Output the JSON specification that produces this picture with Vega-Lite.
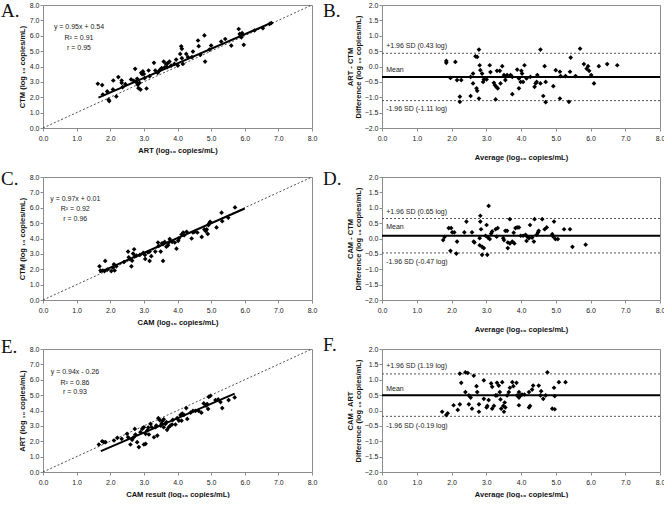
{
  "$schema": "https://vega.github.io/schema/vega-lite/v6.json",
  "padding": 0,
  "background": "white",
  "bounds": "flush",
  "columns": 2,
  "spacing": {"row": 49, "column": 70},
  "datasets": {
    "diag": [{"x": 0, "y": 0}, {"x": 8, "y": 8}],
    "A_pts": [
      {"x":1.63,"y":2.88},{"x":1.76,"y":2.79},{"x":1.78,"y":2.18},{"x":1.91,"y":2.38},{"x":1.95,"y":1.84},{"x":1.97,"y":1.75},{"x":2.08,"y":2.51},{"x":2.09,"y":3.09},{"x":2.18,"y":2.05},{"x":2.24,"y":3.31},{"x":2.34,"y":3.09},{"x":2.34,"y":2.94},{"x":2.37,"y":2.66},{"x":2.45,"y":2.85},{"x":2.62,"y":3.16},{"x":2.70,"y":3.07},{"x":2.74,"y":3.85},{"x":2.77,"y":2.98},{"x":2.80,"y":3.20},{"x":2.82,"y":2.81},{"x":2.84,"y":2.59},{"x":2.87,"y":2.94},{"x":2.90,"y":2.50},{"x":2.92,"y":3.59},{"x":2.95,"y":3.50},{"x":2.97,"y":3.68},{"x":3.00,"y":3.52},{"x":3.02,"y":3.24},{"x":3.08,"y":2.57},{"x":3.14,"y":3.74},{"x":3.17,"y":3.37},{"x":3.30,"y":4.24},{"x":3.34,"y":3.74},{"x":3.41,"y":3.59},{"x":3.45,"y":3.70},{"x":3.49,"y":3.81},{"x":3.53,"y":3.89},{"x":3.59,"y":4.32},{"x":3.62,"y":3.95},{"x":3.66,"y":4.17},{"x":3.69,"y":3.96},{"x":3.70,"y":4.20},{"x":3.76,"y":4.32},{"x":3.81,"y":4.06},{"x":3.91,"y":4.17},{"x":3.96,"y":4.45},{"x":4.01,"y":4.06},{"x":4.08,"y":4.82},{"x":4.11,"y":5.31},{"x":4.13,"y":5.15},{"x":4.13,"y":4.54},{"x":4.16,"y":4.17},{"x":4.26,"y":4.82},{"x":4.31,"y":4.61},{"x":4.43,"y":4.61},{"x":4.46,"y":4.97},{"x":4.61,"y":5.69},{"x":4.63,"y":5.32},{"x":4.68,"y":4.76},{"x":4.80,"y":6.02},{"x":4.82,"y":4.32},{"x":4.95,"y":5.10},{"x":5.00,"y":5.36},{"x":5.30,"y":5.62},{"x":5.42,"y":5.79},{"x":5.60,"y":5.36},{"x":5.82,"y":6.44},{"x":5.85,"y":6.12},{"x":5.88,"y":6.01},{"x":5.90,"y":5.90},{"x":5.92,"y":6.18},{"x":5.97,"y":5.41},{"x":6.29,"y":6.34},{"x":6.54,"y":6.49},{"x":6.74,"y":6.77},{"x":6.79,"y":6.83}
    ],
    "A_fit": [{"x": 1.65, "y": 1.98}, {"x": 6.8, "y": 6.85}],
    "A_txt": [{"x":1.07,"y":6.55,"t":"y = 0.95x + 0.54"},{"x":1.07,"y":5.84,"t":"R² = 0.91"},{"x":1.07,"y":5.19,"t":"r = 0.95"}],
    "B_pts": [
      {"x":1.85,"y":0.18},{"x":1.85,"y":0.12},{"x":1.97,"y":-0.37},{"x":2.11,"y":0.15},{"x":2.16,"y":-0.44},{"x":2.28,"y":-0.44},{"x":2.24,"y":-0.98},{"x":2.24,"y":-1.15},{"x":2.55,"y":-0.96},{"x":2.55,"y":-0.34},{"x":2.62,"y":-0.23},{"x":2.62,"y":-0.55},{"x":2.69,"y":0.33},{"x":2.74,"y":0.31},{"x":2.79,"y":0.55},{"x":2.72,"y":-0.71},{"x":2.74,"y":-0.79},{"x":2.79,"y":-1.04},{"x":2.81,"y":0.04},{"x":2.83,"y":-0.12},{"x":2.88,"y":-0.23},{"x":2.91,"y":-0.50},{"x":2.93,"y":-0.42},{"x":3.01,"y":-0.42},{"x":3.10,"y":0.04},{"x":3.12,"y":-0.18},{"x":3.22,"y":-0.53},{"x":3.25,"y":-0.61},{"x":3.29,"y":-0.66},{"x":3.27,"y":-1.07},{"x":3.31,"y":-0.14},{"x":3.39,"y":-0.14},{"x":3.33,"y":-0.71},{"x":3.41,"y":-0.55},{"x":3.46,"y":0.01},{"x":3.51,"y":-0.28},{"x":3.55,"y":-0.34},{"x":3.60,"y":-0.28},{"x":3.55,"y":-0.44},{"x":3.70,"y":-0.28},{"x":3.75,"y":-0.34},{"x":3.75,"y":-0.90},{"x":3.89,"y":-0.10},{"x":3.94,"y":-0.39},{"x":3.94,"y":-0.71},{"x":3.99,"y":-0.50},{"x":4.06,"y":-0.50},{"x":4.01,"y":-0.14},{"x":4.03,"y":-0.23},{"x":4.10,"y":0.04},{"x":4.16,"y":-0.39},{"x":4.27,"y":-0.34},{"x":4.39,"y":-0.66},{"x":4.42,"y":-0.55},{"x":4.45,"y":-0.50},{"x":4.47,"y":-0.28},{"x":4.56,"y":0.55},{"x":4.56,"y":-0.55},{"x":4.64,"y":-0.96},{"x":4.68,"y":0.01},{"x":4.71,"y":-1.16},{"x":4.71,"y":-0.50},{"x":4.93,"y":-0.64},{"x":5.00,"y":-0.12},{"x":5.12,"y":-0.17},{"x":5.14,"y":-0.31},{"x":5.12,"y":-1.04},{"x":5.28,"y":-0.31},{"x":5.41,"y":-0.17},{"x":5.43,"y":0.29},{"x":5.38,"y":-1.15},{"x":5.57,"y":-0.31},{"x":5.70,"y":0.58},{"x":5.81,"y":0.08},{"x":5.89,"y":-0.07},{"x":5.93,"y":0.01},{"x":5.96,"y":-0.14},{"x":6.02,"y":-0.28},{"x":6.10,"y":-0.55},{"x":6.24,"y":0.01},{"x":6.48,"y":0.08},{"x":6.77,"y":0.04}
    ],
    "B_mean": [{"x":0,"y":-0.34},{"x":8,"y":-0.34}],
    "B_lim": [{"x":0,"y":0.43,"g":"u"},{"x":8,"y":0.43,"g":"u"},{"x":0,"y":-1.11,"g":"l"},{"x":8,"y":-1.11,"g":"l"}],
    "B_txt": [{"x":0.12,"y":0.68,"t":"+1.96 SD (0.43 log)"},{"x":0.12,"y":-0.13,"t":"Mean"},{"x":0.12,"y":-1.39,"t":"-1.96 SD (-1.11 log)"}],
    "C_pts": [
      {"x":1.68,"y":2.19},{"x":1.71,"y":1.92},{"x":1.78,"y":1.92},{"x":1.83,"y":1.88},{"x":1.85,"y":2.54},{"x":1.91,"y":1.97},{"x":2.03,"y":1.88},{"x":2.08,"y":2.10},{"x":2.11,"y":2.32},{"x":2.13,"y":1.92},{"x":2.18,"y":2.19},{"x":2.41,"y":2.47},{"x":2.53,"y":3.15},{"x":2.55,"y":2.78},{"x":2.58,"y":2.67},{"x":2.63,"y":2.19},{"x":2.65,"y":2.56},{"x":2.68,"y":3.02},{"x":2.71,"y":3.30},{"x":2.73,"y":2.85},{"x":2.78,"y":2.89},{"x":2.88,"y":2.93},{"x":2.98,"y":3.06},{"x":3.03,"y":2.93},{"x":3.04,"y":2.67},{"x":3.12,"y":3.10},{"x":3.17,"y":3.15},{"x":3.17,"y":2.54},{"x":3.22,"y":2.85},{"x":3.34,"y":3.15},{"x":3.42,"y":3.74},{"x":3.44,"y":3.52},{"x":3.50,"y":3.15},{"x":3.54,"y":3.69},{"x":3.57,"y":3.63},{"x":3.57,"y":2.54},{"x":3.62,"y":3.78},{"x":3.67,"y":3.47},{"x":3.72,"y":3.56},{"x":3.74,"y":3.74},{"x":3.77,"y":3.96},{"x":3.84,"y":3.78},{"x":3.92,"y":3.74},{"x":3.97,"y":3.34},{"x":4.02,"y":3.85},{"x":4.04,"y":4.00},{"x":4.12,"y":4.26},{"x":4.17,"y":4.39},{"x":4.20,"y":4.21},{"x":4.27,"y":4.44},{"x":4.42,"y":4.00},{"x":4.46,"y":4.39},{"x":4.51,"y":4.44},{"x":4.59,"y":4.39},{"x":4.72,"y":4.10},{"x":4.80,"y":4.59},{"x":4.84,"y":4.48},{"x":4.87,"y":4.59},{"x":4.90,"y":4.30},{"x":4.92,"y":4.87},{"x":4.94,"y":4.98},{"x":4.97,"y":5.09},{"x":5.16,"y":4.72},{"x":5.31,"y":5.68},{"x":5.33,"y":5.13},{"x":5.51,"y":5.35},{"x":5.71,"y":6.02}
    ],
    "C_fit": [{"x":1.68,"y":1.8},{"x":6.0,"y":5.95}],
    "C_txt": [{"x":0.96,"y":6.60,"t":"y = 0.97x + 0.01"},{"x":0.96,"y":5.90,"t":"R² = 0.92"},{"x":0.96,"y":5.25,"t":"r = 0.96"}],
    "D_pts": [
      {"x":1.76,"y":-0.05},{"x":1.80,"y":0.05},{"x":1.92,"y":0.34},{"x":1.99,"y":0.34},{"x":1.97,"y":-0.40},{"x":2.02,"y":0.20},{"x":2.08,"y":0.20},{"x":2.14,"y":-0.49},{"x":2.16,"y":-0.10},{"x":2.37,"y":0.20},{"x":2.43,"y":0.55},{"x":2.59,"y":0.20},{"x":2.64,"y":-0.10},{"x":2.66,"y":-0.13},{"x":2.81,"y":0.01},{"x":2.83,"y":0.55},{"x":2.83,"y":0.74},{"x":2.85,"y":0.30},{"x":2.81,"y":-0.22},{"x":2.88,"y":-0.27},{"x":2.93,"y":-0.31},{"x":2.88,"y":-0.53},{"x":3.03,"y":-0.53},{"x":3.01,"y":0.44},{"x":3.07,"y":1.06},{"x":2.98,"y":0.09},{"x":3.05,"y":0.03},{"x":3.10,"y":-0.02},{"x":3.14,"y":0.16},{"x":3.17,"y":0.23},{"x":3.27,"y":0.30},{"x":3.33,"y":0.34},{"x":3.30,"y":0.06},{"x":3.49,"y":0.01},{"x":3.51,"y":-0.05},{"x":3.55,"y":0.25},{"x":3.60,"y":0.25},{"x":3.62,"y":-0.13},{"x":3.68,"y":-0.16},{"x":3.62,"y":-0.31},{"x":3.68,"y":0.63},{"x":3.75,"y":-0.10},{"x":3.79,"y":0.19},{"x":3.84,"y":0.34},{"x":3.89,"y":0.36},{"x":3.81,"y":-0.16},{"x":3.94,"y":0.36},{"x":3.99,"y":0.09},{"x":4.06,"y":0.09},{"x":4.13,"y":0.12},{"x":4.18,"y":0.06},{"x":4.23,"y":0.01},{"x":4.16,"y":-0.08},{"x":4.26,"y":0.44},{"x":4.32,"y":0.03},{"x":4.37,"y":-0.10},{"x":4.39,"y":0.63},{"x":4.45,"y":0.12},{"x":4.49,"y":0.20},{"x":4.51,"y":0.25},{"x":4.61,"y":0.63},{"x":4.68,"y":0.30},{"x":4.74,"y":0.36},{"x":4.90,"y":0.14},{"x":4.93,"y":0.06},{"x":4.95,"y":0.55},{"x":4.99,"y":-0.02},{"x":5.06,"y":-0.02},{"x":5.24,"y":0.30},{"x":5.41,"y":0.30},{"x":5.48,"y":-0.27},{"x":5.86,"y":-0.20}
    ],
    "D_mean": [{"x":0,"y":0.09},{"x":8,"y":0.09}],
    "D_lim": [{"x":0,"y":0.65,"g":"u"},{"x":8,"y":0.65,"g":"u"},{"x":0,"y":-0.47,"g":"l"},{"x":8,"y":-0.47,"g":"l"}],
    "D_txt": [{"x":0.12,"y":0.86,"t":"+1.96 SD (0.65 log)"},{"x":0.12,"y":0.37,"t":"Mean"},{"x":0.12,"y":-0.75,"t":"-1.96 SD (-0.47 log)"}],
    "E_pts": [
      {"x":1.66,"y":1.79},{"x":1.76,"y":2.00},{"x":1.81,"y":1.94},{"x":1.86,"y":1.94},{"x":2.11,"y":2.05},{"x":2.21,"y":2.22},{"x":2.34,"y":2.16},{"x":2.50,"y":2.48},{"x":2.53,"y":2.26},{"x":2.60,"y":1.79},{"x":2.65,"y":2.09},{"x":2.70,"y":2.26},{"x":2.73,"y":2.80},{"x":2.75,"y":2.44},{"x":2.80,"y":1.94},{"x":2.85,"y":1.62},{"x":2.90,"y":2.59},{"x":2.95,"y":2.80},{"x":3.00,"y":2.91},{"x":3.00,"y":1.79},{"x":3.05,"y":1.83},{"x":3.05,"y":2.48},{"x":3.10,"y":2.70},{"x":3.13,"y":2.89},{"x":3.15,"y":2.44},{"x":3.20,"y":3.13},{"x":3.23,"y":2.91},{"x":3.30,"y":2.26},{"x":3.35,"y":2.91},{"x":3.37,"y":3.02},{"x":3.40,"y":2.37},{"x":3.43,"y":3.50},{"x":3.47,"y":3.37},{"x":3.50,"y":3.02},{"x":3.53,"y":3.17},{"x":3.56,"y":3.34},{"x":3.59,"y":3.43},{"x":3.59,"y":2.91},{"x":3.64,"y":3.13},{"x":3.67,"y":3.24},{"x":3.69,"y":2.74},{"x":3.74,"y":2.91},{"x":3.79,"y":3.02},{"x":3.84,"y":3.09},{"x":3.86,"y":3.39},{"x":3.94,"y":3.09},{"x":3.99,"y":3.50},{"x":4.04,"y":3.34},{"x":4.09,"y":3.71},{"x":4.14,"y":3.80},{"x":4.12,"y":3.34},{"x":4.19,"y":3.71},{"x":4.26,"y":4.16},{"x":4.29,"y":3.45},{"x":4.39,"y":3.86},{"x":4.46,"y":3.97},{"x":4.53,"y":3.97},{"x":4.63,"y":3.97},{"x":4.71,"y":3.86},{"x":4.78,"y":4.46},{"x":4.85,"y":4.31},{"x":4.88,"y":4.42},{"x":4.91,"y":4.10},{"x":4.93,"y":4.89},{"x":4.98,"y":4.96},{"x":5.13,"y":4.68},{"x":5.21,"y":4.72},{"x":5.28,"y":4.55},{"x":5.33,"y":4.16},{"x":5.52,"y":4.68},{"x":5.70,"y":4.85}
    ],
    "E_fit": [{"x":1.72,"y":1.36},{"x":5.7,"y":5.1}],
    "E_txt": [{"x":0.95,"y":6.53,"t":"y = 0.94x - 0.26"},{"x":0.95,"y":5.82,"t":"R² = 0.86"},{"x":0.95,"y":5.18,"t":"r = 0.93"}],
    "F_pts": [
      {"x":1.73,"y":-0.04},{"x":1.85,"y":-0.15},{"x":1.89,"y":-0.09},{"x":2.06,"y":0.17},{"x":2.18,"y":0.02},{"x":2.24,"y":0.20},{"x":2.24,"y":1.20},{"x":2.28,"y":0.90},{"x":2.40,"y":1.24},{"x":2.47,"y":1.22},{"x":2.40,"y":0.60},{"x":2.50,"y":0.49},{"x":2.55,"y":0.42},{"x":2.50,"y":0.20},{"x":2.59,"y":0.06},{"x":2.64,"y":1.13},{"x":2.72,"y":0.79},{"x":2.74,"y":0.60},{"x":2.79,"y":-0.04},{"x":2.79,"y":0.20},{"x":2.93,"y":0.38},{"x":2.93,"y":0.98},{"x":3.01,"y":0.10},{"x":3.03,"y":0.15},{"x":3.07,"y":0.34},{"x":3.14,"y":0.88},{"x":3.17,"y":0.77},{"x":3.17,"y":0.06},{"x":3.22,"y":0.15},{"x":3.27,"y":0.49},{"x":3.31,"y":0.49},{"x":3.31,"y":0.90},{"x":3.36,"y":0.81},{"x":3.39,"y":0.60},{"x":3.41,"y":0.36},{"x":3.43,"y":0.06},{"x":3.46,"y":0.92},{"x":3.49,"y":0.15},{"x":3.51,"y":-0.04},{"x":3.53,"y":0.26},{"x":3.55,"y":0.10},{"x":3.60,"y":0.49},{"x":3.65,"y":0.60},{"x":3.68,"y":0.74},{"x":3.75,"y":0.92},{"x":3.78,"y":0.79},{"x":3.87,"y":0.90},{"x":3.89,"y":0.49},{"x":3.94,"y":0.42},{"x":3.94,"y":0.60},{"x":3.99,"y":0.49},{"x":3.94,"y":0.17},{"x":4.03,"y":0.52},{"x":4.10,"y":0.52},{"x":4.23,"y":0.10},{"x":4.26,"y":0.15},{"x":4.23,"y":0.60},{"x":4.32,"y":0.68},{"x":4.35,"y":0.81},{"x":4.51,"y":0.81},{"x":4.56,"y":0.49},{"x":4.58,"y":0.63},{"x":4.64,"y":0.38},{"x":4.71,"y":0.49},{"x":4.76,"y":1.24},{"x":4.90,"y":0.06},{"x":4.97,"y":0.04},{"x":4.95,"y":0.74},{"x":4.97,"y":0.47},{"x":5.09,"y":0.92},{"x":5.28,"y":0.92}
    ],
    "F_mean": [{"x":0,"y":0.50},{"x":8,"y":0.50}],
    "F_lim": [{"x":0,"y":1.19,"g":"u"},{"x":8,"y":1.19,"g":"u"},{"x":0,"y":-0.19,"g":"l"},{"x":8,"y":-0.19,"g":"l"}],
    "F_txt": [{"x":0.12,"y":1.45,"t":"+1.96 SD (1.19 log)"},{"x":0.12,"y":0.71,"t":"Mean"},{"x":0.12,"y":-0.50,"t":"-1.96 SD (-0.19 log)"}]
  },
  "concat": [
    {
      "width": 269, "height": 123,
      "title": {"text": "A.", "dx": -42, "dy": 24},
      "encoding": {
        "x": {"field": "x", "type": "quantitative", "scale": {"domain": [0, 8]}, "axis": {"values": [0,1,2,3,4,5,6,7,8], "format": ".1f", "title": "ART (log₁₀ copies/mL)", "titlePadding": 5}},
        "y": {"field": "y", "type": "quantitative", "scale": {"domain": [0, 8]}, "axis": {"values": [0,1,2,3,4,5,6,7,8], "format": ".1f", "title": "CTM (log ₁₀ copies/mL)", "titlePadding": 3}}
      },
      "layer": [
        {"data": {"name": "diag"}, "mark": {"type": "line", "color": "#222", "strokeWidth": 0.8, "strokeDash": [2, 2]}, "encoding": {}},
        {"data": {"name": "A_fit"}, "mark": {"type": "line", "color": "black", "strokeWidth": 2}, "encoding": {}},
        {"data": {"name": "A_pts"}, "mark": {"type": "point", "shape": "diamond", "filled": true, "color": "black", "size": 22, "opacity": 1}},
        {"data": {"name": "A_txt"}, "mark": {"type": "text", "fontSize": 7, "font": "Liberation Sans", "color": "#222"}, "encoding": {"text": {"field": "t"}}}
      ]
    },
    {
      "width": 278, "height": 123,
      "title": {"text": "B.", "dx": -59, "dy": 24},
      "encoding": {
        "x": {"field": "x", "type": "quantitative", "scale": {"domain": [0, 8]}, "axis": {"values": [0,1,2,3,4,5,6,7,8], "format": ".1f", "title": "Average (log₁₀ copies/mL)", "titlePadding": 12}},
        "y": {"field": "y", "type": "quantitative", "scale": {"domain": [-2, 2]}, "axis": {"values": [-2,-1.5,-1,-0.5,0,0.5,1,1.5,2], "format": ".1f", "title": ["ART - CTM", "Difference (log ₁₀ copies/mL)"], "titlePadding": 2}}
      },
      "layer": [
        {"data": {"name": "B_lim"}, "mark": {"type": "line", "color": "#555", "strokeWidth": 1, "strokeDash": [2, 2]}, "encoding": {"detail": {"field": "g"}}},
        {"data": {"name": "B_mean"}, "mark": {"type": "line", "color": "black", "strokeWidth": 2}, "encoding": {}},
        {"data": {"name": "B_pts"}, "mark": {"type": "point", "shape": "diamond", "filled": true, "color": "black", "size": 22, "opacity": 1}},
        {"data": {"name": "B_txt"}, "mark": {"type": "text", "fontSize": 7, "font": "Liberation Sans", "color": "#222", "align": "left"}, "encoding": {"text": {"field": "t"}}}
      ]
    },
    {
      "width": 269, "height": 123,
      "title": {"text": "C.", "dx": -42, "dy": 20},
      "encoding": {
        "x": {"field": "x", "type": "quantitative", "scale": {"domain": [0, 8]}, "axis": {"values": [0,1,2,3,4,5,6,7,8], "format": ".1f", "title": "CAM (log₁₀ copies/mL)", "titlePadding": 5}},
        "y": {"field": "y", "type": "quantitative", "scale": {"domain": [0, 8]}, "axis": {"values": [0,1,2,3,4,5,6,7,8], "format": ".1f", "title": "CTM (log ₁₀ copies/mL)", "titlePadding": 3}}
      },
      "layer": [
        {"data": {"name": "diag"}, "mark": {"type": "line", "color": "#222", "strokeWidth": 0.8, "strokeDash": [2, 2]}, "encoding": {}},
        {"data": {"name": "C_fit"}, "mark": {"type": "line", "color": "black", "strokeWidth": 2}, "encoding": {}},
        {"data": {"name": "C_pts"}, "mark": {"type": "point", "shape": "diamond", "filled": true, "color": "black", "size": 22, "opacity": 1}},
        {"data": {"name": "C_txt"}, "mark": {"type": "text", "fontSize": 7, "font": "Liberation Sans", "color": "#222"}, "encoding": {"text": {"field": "t"}}}
      ]
    },
    {
      "width": 278, "height": 123,
      "title": {"text": "D.", "dx": -59, "dy": 20},
      "encoding": {
        "x": {"field": "x", "type": "quantitative", "scale": {"domain": [0, 8]}, "axis": {"values": [0,1,2,3,4,5,6,7,8], "format": ".1f", "title": "Average (log₁₀ copies/mL)", "titlePadding": 12}},
        "y": {"field": "y", "type": "quantitative", "scale": {"domain": [-2, 2]}, "axis": {"values": [-2,-1.5,-1,-0.5,0,0.5,1,1.5,2], "format": ".1f", "title": ["CAM - CTM", "Difference (log ₁₀ copies/mL)"], "titlePadding": 2}}
      },
      "layer": [
        {"data": {"name": "D_lim"}, "mark": {"type": "line", "color": "#555", "strokeWidth": 1, "strokeDash": [2, 2]}, "encoding": {"detail": {"field": "g"}}},
        {"data": {"name": "D_mean"}, "mark": {"type": "line", "color": "black", "strokeWidth": 2}, "encoding": {}},
        {"data": {"name": "D_pts"}, "mark": {"type": "point", "shape": "diamond", "filled": true, "color": "black", "size": 22, "opacity": 1}},
        {"data": {"name": "D_txt"}, "mark": {"type": "text", "fontSize": 7, "font": "Liberation Sans", "color": "#222", "align": "left"}, "encoding": {"text": {"field": "t"}}}
      ]
    },
    {
      "width": 269, "height": 123,
      "title": {"text": "E.", "dx": -42, "dy": 16},
      "encoding": {
        "x": {"field": "x", "type": "quantitative", "scale": {"domain": [0, 8]}, "axis": {"values": [0,1,2,3,4,5,6,7,8], "format": ".1f", "title": "CAM result (log₁₀ copies/mL)", "titlePadding": 5}},
        "y": {"field": "y", "type": "quantitative", "scale": {"domain": [0, 8]}, "axis": {"values": [0,1,2,3,4,5,6,7,8], "format": ".1f", "title": "ART (log ₁₀ copies/mL)", "titlePadding": 3}}
      },
      "layer": [
        {"data": {"name": "diag"}, "mark": {"type": "line", "color": "#222", "strokeWidth": 0.8, "strokeDash": [2, 2]}, "encoding": {}},
        {"data": {"name": "E_fit"}, "mark": {"type": "line", "color": "black", "strokeWidth": 2}, "encoding": {}},
        {"data": {"name": "E_pts"}, "mark": {"type": "point", "shape": "diamond", "filled": true, "color": "black", "size": 22, "opacity": 1}},
        {"data": {"name": "E_txt"}, "mark": {"type": "text", "fontSize": 7, "font": "Liberation Sans", "color": "#222"}, "encoding": {"text": {"field": "t"}}}
      ]
    },
    {
      "width": 278, "height": 123,
      "title": {"text": "F.", "dx": -59, "dy": 14},
      "encoding": {
        "x": {"field": "x", "type": "quantitative", "scale": {"domain": [0, 8]}, "axis": {"values": [0,1,2,3,4,5,6,7,8], "format": ".1f", "title": "Average (log₁₀ copies/mL)", "titlePadding": 5}},
        "y": {"field": "y", "type": "quantitative", "scale": {"domain": [-2, 2]}, "axis": {"values": [-2,-1.5,-1,-0.5,0,0.5,1,1.5,2], "format": ".1f", "title": ["CAM - ART", "Difference (log ₁₀ copies/mL)"], "titlePadding": 2}}
      },
      "layer": [
        {"data": {"name": "F_lim"}, "mark": {"type": "line", "color": "#555", "strokeWidth": 1, "strokeDash": [2, 2]}, "encoding": {"detail": {"field": "g"}}},
        {"data": {"name": "F_mean"}, "mark": {"type": "line", "color": "black", "strokeWidth": 2}, "encoding": {}},
        {"data": {"name": "F_pts"}, "mark": {"type": "point", "shape": "diamond", "filled": true, "color": "black", "size": 22, "opacity": 1}},
        {"data": {"name": "F_txt"}, "mark": {"type": "text", "fontSize": 7, "font": "Liberation Sans", "color": "#222", "align": "left"}, "encoding": {"text": {"field": "t"}}}
      ]
    }
  ],
  "config": {
    "view": {"stroke": "#8c8c8c", "strokeWidth": 1},
    "axis": {"grid": false, "domain": false, "tickColor": "#8c8c8c", "tickSize": 3, "labelFont": "Liberation Sans", "labelFontSize": 7, "labelColor": "#222", "titleFont": "Liberation Sans", "titleFontSize": 7.5, "titleFontWeight": "bold", "titleColor": "#111", "labelFlush": false, "labelOverlap": false},
    "axisX": {"labelPadding": 3},
    "axisY": {"labelPadding": 1, "titleLineHeight": 8},
    "title": {"font": "Liberation Serif", "fontSize": 19, "fontWeight": "normal", "anchor": "start", "frame": "group", "offset": 0, "baseline": "alphabetic", "color": "#111"}
  }
}
